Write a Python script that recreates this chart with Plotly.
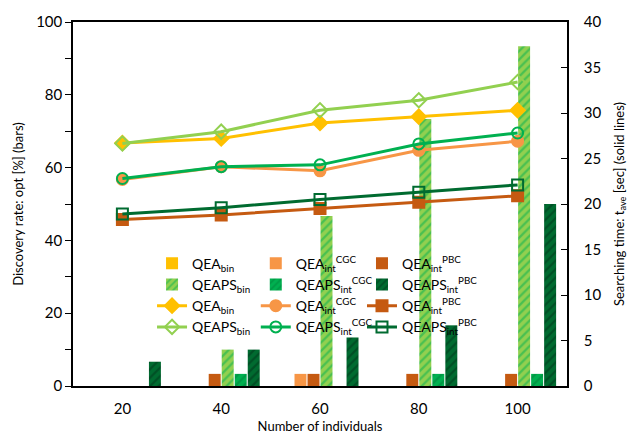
import plotly.graph_objects as go

# Population sizes on the x axis
individuals = ["20", "40", "60", "80", "100"]

# Discovery rate of the optimum [%] (bars, left axis)
rate_qea_bin = [0, 0, 0, 0, 0]
rate_qea_cgc = [0, 0, 3.33, 0, 0]
rate_qea_pbc = [0, 3.33, 3.33, 3.33, 3.33]
rate_qeaps_bin = [0, 10, 46.67, 73.33, 93.33]
rate_qeaps_cgc = [0, 3.33, 0, 3.33, 3.33]
rate_qeaps_pbc = [6.67, 10, 13.33, 16.67, 50]

# Average searching time [sec] (solid lines, right axis)
time_qea_bin = [26.7, 27.2, 28.9, 29.6, 30.3]
time_qeaps_bin = [26.65, 27.95, 30.3, 31.4, 33.4]
time_qea_cgc = [22.7, 24.1, 23.65, 25.9, 26.9]
time_qeaps_cgc = [22.8, 24.1, 24.3, 26.6, 27.8]
time_qea_pbc = [18.3, 18.8, 19.5, 20.2, 20.9]
time_qeaps_pbc = [18.9, 19.6, 20.5, 21.3, 22.1]

YELLOW = "#FFC000"
LIGHT_ORANGE = "#F79646"
DARK_ORANGE = "#C55A11"
LIGHT_GREEN = "#92D050"
GREEN = "#00B050"
DARK_GREEN = "#006B30"

FONT = "Lato"

fig = go.Figure()


def solid_bar(name, values, color, legend):
    fig.add_trace(go.Bar(
        x=individuals, y=values, name=name, legend=legend,
        marker=dict(color=color, line=dict(width=0)),
        yaxis="y",
    ))


def hatched_bar(name, values, bg, fg, legend):
    fig.add_trace(go.Bar(
        x=individuals, y=values, name=name, legend=legend,
        marker=dict(
            color=bg, line=dict(width=0),
            pattern=dict(shape="/", bgcolor=bg, fgcolor=fg, size=6, solidity=0.38),
        ),
        yaxis="y",
    ))


def time_line(name, values, color, symbol, legend):
    fig.add_trace(go.Scatter(
        x=individuals, y=values, name=name, legend=legend,
        mode="lines+markers",
        line=dict(color=color, width=3),
        marker=dict(symbol=symbol, size=11, color=color,
                    line=dict(color=color, width=2)),
        yaxis="y2",
    ))


# Bars: three solid QEA variants, three hatched QEAPS variants
solid_bar("QEA<sub>bin</sub>", rate_qea_bin, YELLOW, "legend")
solid_bar("QEA<sub>int</sub><sup>CGC</sup>", rate_qea_cgc, LIGHT_ORANGE, "legend2")
solid_bar("QEA<sub>int</sub><sup>PBC</sup>", rate_qea_pbc, DARK_ORANGE, "legend3")
hatched_bar("QEAPS<sub>bin</sub>", rate_qeaps_bin, LIGHT_GREEN, GREEN, "legend")
hatched_bar("QEAPS<sub>int</sub><sup>CGC</sup>", rate_qeaps_cgc, GREEN, "#00813A", "legend2")
hatched_bar("QEAPS<sub>int</sub><sup>PBC</sup>", rate_qeaps_pbc, DARK_GREEN, "#00361A", "legend3")

# Lines: searching time
time_line("QEA<sub>bin</sub>", time_qea_bin, YELLOW, "diamond", "legend")
time_line("QEAPS<sub>bin</sub>", time_qeaps_bin, LIGHT_GREEN, "diamond-open", "legend")
time_line("QEA<sub>int</sub><sup>CGC</sup>", time_qea_cgc, LIGHT_ORANGE, "circle", "legend2")
time_line("QEAPS<sub>int</sub><sup>CGC</sup>", time_qeaps_cgc, GREEN, "circle-open", "legend2")
time_line("QEA<sub>int</sub><sup>PBC</sup>", time_qea_pbc, DARK_ORANGE, "square", "legend3")
time_line("QEAPS<sub>int</sub><sup>PBC</sup>", time_qeaps_pbc, DARK_GREEN, "square-open", "legend3")

legend_common = dict(
    bgcolor="rgba(0,0,0,0)", borderwidth=0,
    font=dict(family=FONT, size=14, color="black"),
    itemwidth=30, tracegroupgap=0, yanchor="top", xanchor="left",
    traceorder="normal",
)

fig.update_layout(
    width=640, height=444,
    margin=dict(l=73, r=73, t=22, b=58),
    paper_bgcolor="white", plot_bgcolor="white",
    font=dict(family=FONT, size=14, color="black"),
    barmode="group", bargap=0.21, bargroupgap=0.08,
    xaxis=dict(
        type="category", showline=True, linecolor="black", linewidth=1.5,
        mirror=True, ticks="outside", ticklen=8, tickcolor="rgba(0,0,0,0)",
        showgrid=False,
        title=dict(text="Number of individuals", font=dict(size=13), standoff=6),
        tickfont=dict(size=15),
    ),
    yaxis=dict(
        range=[0, 100], dtick=20, showgrid=False, zeroline=False,
        showline=True, linecolor="black", linewidth=1.5,
        ticks="outside", ticklen=6, tickcolor="black",
        minor=dict(dtick=10, ticks="outside", ticklen=6, tickcolor="black"),
        title=dict(text="Discovery rate: opt [%] (bars)", font=dict(size=13), standoff=10),
        tickfont=dict(size=15),
    ),
    yaxis2=dict(
        range=[0, 40], dtick=5, overlaying="y", side="right",
        showgrid=False, zeroline=False,
        showline=True, linecolor="black", linewidth=1.5,
        ticks="inside", ticklen=6, tickcolor="black",
        ticklabelstandoff=12,
        title=dict(text="Searching time: t<sub>ave</sub> [sec] (solid lines)",
                   font=dict(size=13), standoff=14),
        tickfont=dict(size=15),
    ),
    legend=dict(x=0.16, y=0.38, **legend_common),
    legend2=dict(x=0.37, y=0.38, **legend_common),
    legend3=dict(x=0.585, y=0.38, **legend_common),
)

fig.write_html("out.html")
